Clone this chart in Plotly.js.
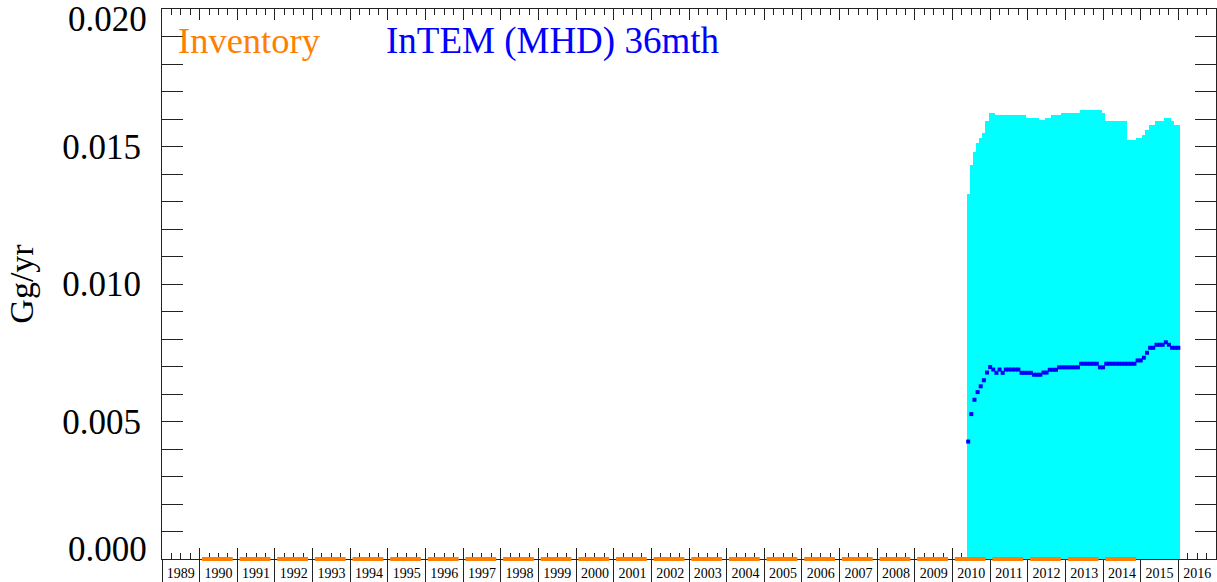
<!DOCTYPE html>
<html><head><meta charset="utf-8">
<script src="https://cdn.plot.ly/plotly-3.0.1.min.js"></script>
<style>html,body{margin:0;padding:0;background:#fff}</style>
</head><body><div id="chart" style="width:1217px;height:582px"></div>
<script>
// ---- data ----
const yearLabels = [1989,1990,1991,1992,1993,1994,1995,1996,1997,1998,1999,2000,2001,2002,2003,2004,2005,2006,2007,2008,2009,2010,2011,2012,2013,2014,2015,2016];
const inventoryYears = [1990,1991,1992,1993,1994,1995,1996,1997,1998,1999,2000,2001,2002,2003,2004,2005,2006,2007,2008,2009,2010,2011,2012,2013,2014];
const inventoryValues = [0,0,0,0,0,0,0,0,0,0,0,0,0,0,0,0,0,0,0,0,0,0,0,0,0];
// InTEM (MHD) 36mth, monthly from 2010-06 to 2016-01
const intemStart = "2010-06";
const intemMean = [
  0.00427,0.00527,0.00579,0.00607,0.00628,0.00650,0.00678,0.00698,0.00689,0.00677,
  0.00689,0.00677,0.00689,0.00689,0.00689,0.00689,0.00689,0.00677,0.00677,0.00677,
  0.00677,0.00670,0.00670,0.00670,0.00678,0.00678,0.00688,0.00688,0.00688,0.00697,
  0.00697,0.00697,0.00697,0.00697,0.00697,0.00697,0.00710,0.00710,0.00710,0.00710,
  0.00710,0.00710,0.00697,0.00697,0.00710,0.00710,0.00710,0.00710,0.00710,0.00710,
  0.00710,0.00710,0.00710,0.00710,0.00722,0.00722,0.00732,0.00750,0.00768,0.00768,
  0.00779,0.00779,0.00779,0.00788,0.00779,0.00768,0.00768,0.00768];
const intemUpper = [
  0.01328,0.01433,0.01479,0.01512,0.01532,0.01550,0.01592,0.01621,0.01621,0.01613,
  0.01613,0.01613,0.01613,0.01613,0.01613,0.01613,0.01613,0.01613,0.01613,0.01603,
  0.01603,0.01603,0.01603,0.01595,0.01595,0.01603,0.01603,0.01613,0.01613,0.01613,
  0.01621,0.01621,0.01621,0.01621,0.01621,0.01621,0.01631,0.01631,0.01631,0.01631,
  0.01631,0.01631,0.01631,0.01621,0.01592,0.01592,0.01592,0.01592,0.01592,0.01592,
  0.01592,0.01524,0.01524,0.01524,0.01532,0.01532,0.01542,0.01561,0.01580,0.01580,
  0.01592,0.01592,0.01592,0.01603,0.01603,0.01592,0.01580,0.01580];
const yTickVals = [0.005,0.010,0.015];

// ---- derived ----
const sy = parseInt(intemStart.slice(0,4)), sm = parseInt(intemStart.slice(5,7)) - 1;
const intemX = intemMean.map((_, i) => sy + (sm + i) / 12);
const invX = inventoryYears.map(y => y + 0.47);

const INK = '#222';
const SERIF = 'Liberation Serif, Times New Roman, serif';

const traces = [
  {type:'bar', x:intemX, y:intemUpper, width:1/12, marker:{color:'#00ffff', line:{width:0}},
   name:'InTEM range', showlegend:false, hoverinfo:'skip'},
  {type:'scatter', mode:'markers', x:intemX, y:intemMean, name:'InTEM (MHD) 36mth',
   marker:{symbol:'square', size:4, color:'#0000ff', line:{width:0}}, showlegend:false},
  {type:'scatter', mode:'markers', x:invX, y:inventoryValues, name:'Inventory', cliponaxis:false,
   marker:{symbol:'line-ew', size:22, color:'#ff8000', line:{width:4, color:'#ff8000'}}, showlegend:false},
  {type:'scatter', mode:'markers', x:[1989], y:[0], xaxis:'x2', marker:{opacity:0}, showlegend:false, hoverinfo:'skip'},
  {type:'scatter', mode:'markers', x:[1989], y:[0], xaxis:'x3', marker:{opacity:0}, showlegend:false, hoverinfo:'skip'}
];

const xRange = [1989, 2017];
const layout = {
  width:1217, height:582,
  margin:{l:162, r:1, t:9, b:23, pad:0},
  paper_bgcolor:'#fff', plot_bgcolor:'#fff',
  bargap:0, showlegend:false,
  xaxis:{range:xRange, tickmode:'linear', tick0:1989, dtick:1, ticks:'inside', ticklen:11, tickwidth:1, tickcolor:INK,
    showticklabels:false, showline:true, linecolor:INK, linewidth:1, mirror:'allticks', showgrid:false, zeroline:false,
    minor:{tickmode:'linear', tick0:1989, dtick:0.25, ticks:'inside', ticklen:6, tickcolor:INK, tickwidth:1, showgrid:false},
    layer:'below traces'},
  xaxis2:{overlaying:'x', anchor:'y', side:'bottom', range:xRange, tickmode:'array',
    tickvals:yearLabels.map(y => y + 0.5), ticktext:yearLabels.map(String), ticks:'',
    showline:false, showgrid:false, zeroline:false, tickfont:{family:SERIF, size:14, color:'#000'}, ticklabelstandoff:4},
  xaxis3:{overlaying:'x', anchor:'y', side:'bottom', range:xRange, tickmode:'array', tickvals:yearLabels,
    ticks:'outside', ticklen:24, tickwidth:1, tickcolor:INK, showticklabels:false, showline:false, showgrid:false, zeroline:false},
  yaxis:{range:[0, 0.02], tickmode:'array', tickvals:yTickVals, tickformat:'.3f', ticks:'inside', ticklen:21, tickwidth:1, tickcolor:INK,
    showline:true, linecolor:INK, linewidth:1, mirror:'allticks', showgrid:false, zeroline:false,
    minor:{tickmode:'linear', tick0:0, dtick:0.001, ticks:'inside', ticklen:11, tickcolor:INK, tickwidth:1, showgrid:false},
    tickfont:{family:SERIF, size:35, color:'#000'}, ticklabelstandoff:13,
    title:{text:'Gg/yr', font:{family:SERIF, size:34, color:'#000'}, standoff:18}, layer:'below traces'},
  annotations:[
    {xref:'paper', yref:'y', x:0, y:0.020, text:'0.020', showarrow:false, xanchor:'right', yanchor:'middle', xshift:-13, yshift:-10,
     font:{family:SERIF, size:35, color:'#000'}},
    {xref:'paper', yref:'y', x:0, y:0.000, text:'0.000', showarrow:false, xanchor:'right', yanchor:'middle', xshift:-13, yshift:10,
     font:{family:SERIF, size:35, color:'#000'}},
    {xref:'paper', yref:'paper', x:0.0133, y:0.942, text:'Inventory', showarrow:false, xanchor:'left', yanchor:'middle',
     font:{family:SERIF, size:36.5, color:'#ff8000'}},
    {xref:'paper', yref:'paper', x:0.2110, y:0.942, text:'InTEM (MHD) 36mth', showarrow:false, xanchor:'left', yanchor:'middle',
     font:{family:SERIF, size:37, color:'#0000ff'}}
  ]
};
Plotly.newPlot('chart', traces, layout, {displayModeBar:false, staticPlot:true});
</script></body></html>
